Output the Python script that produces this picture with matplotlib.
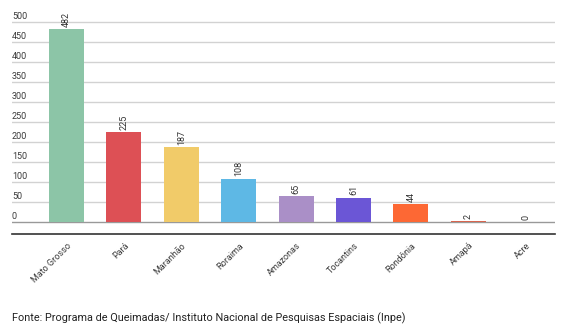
import numpy as np
import matplotlib.pyplot as plt
from matplotlib.transforms import blended_transform_factory

plt.rcParams['font.family'] = ['Roboto', 'DejaVu Sans']

estados = ['Mato Grosso', 'Pará', 'Maranhão', 'Roraima', 'Amazonas',
           'Tocantins', 'Rondônia', 'Amapá', 'Acre']
focos = [482, 225, 187, 108, 65, 61, 44, 2, 0]
cores = ['#8cc5a7', '#dd5055', '#f1cb69', '#5eb8e5', '#aa8fc7',
         '#6b56d6', '#fd6834', '#d8654f', '#cccccc']
yticks = list(range(0, 501, 50))

fig = plt.figure(figsize=(5.61, 3.31), dpi=100)
ax = fig.add_axes([12/561, (331-234)/331, (555-12)/561, 234/331])

x = np.arange(len(estados))
ax.bar(x, focos, width=0.61, color=cores, zorder=3)

ax.set_xlim(-0.95, 8.51)
ax.set_ylim(-30, 555)

# linhas de grade
for v in yticks:
    ax.axhline(v, color='#999999' if v == 0 else '#d2d2d2', lw=1.0, zorder=1)

tr = blended_transform_factory(ax.transAxes, ax.transData)
for v in yticks:
    ax.text(0.0, v + 3, str(v), transform=tr, ha='left', va='bottom',
            fontsize=6.5, color='#3a3a3a')

for xi, v in zip(x, focos):
    ax.text(xi, v + 6, str(v), rotation=90, ha='center', va='bottom',
            fontsize=6.5, color='#333333', zorder=4)

for s in ['top', 'right', 'left']:
    ax.spines[s].set_visible(False)
ax.spines['bottom'].set_color('#333333')
ax.spines['bottom'].set_linewidth(1.2)

ax.set_yticks([])
ax.set_xticks(x)
ax.set_xticklabels(estados, rotation=45, ha='right', rotation_mode='anchor',
                   fontsize=6.5, color='#3a3a3a')
ax.tick_params(axis='x', length=0, pad=5)

fig.text(12/561, 1 - 318/331, 'Fonte: Programa de Queimadas/ Instituto Nacional de Pesquisas Espaciais (Inpe)',
         ha='left', va='center', fontsize=7.8, color='#222222')

fig.savefig('out.png', dpi=100)
